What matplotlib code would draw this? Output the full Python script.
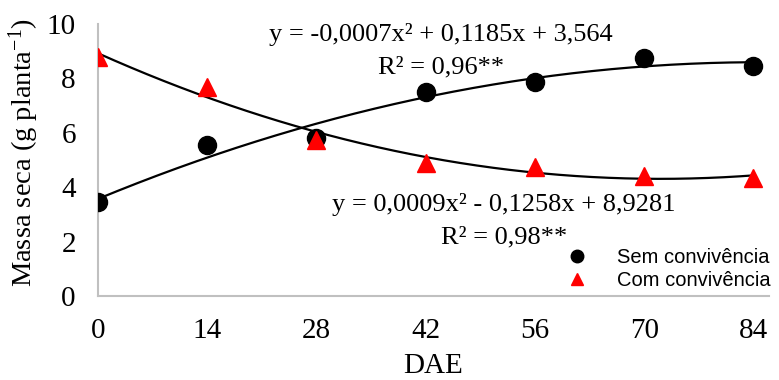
import numpy as np
import matplotlib.pyplot as plt
from matplotlib.lines import Line2D

# --------- DATA ---------
dae = [0, 14, 28, 42, 56, 70, 84]
sem_conv = [3.45, 5.55, 5.8, 7.5, 7.85, 8.75, 8.45]
com_conv = [8.8, 7.7, 5.75, 4.9, 4.75, 4.4, 4.35]

sem_eq = "y = -0,0007x² + 0,1185x + 3,564"
sem_r2 = "R² = 0,96**"
com_eq = "y = 0,0009x² - 0,1258x + 8,9281"
com_r2 = "R² = 0,98**"

# --------- STYLE ---------
plt.rcParams['font.family'] = ['Liberation Serif', 'DejaVu Serif']
plt.rcParams['mathtext.fontset'] = 'custom'
plt.rcParams['mathtext.rm'] = 'Liberation Serif'
plt.rcParams['mathtext.it'] = 'Liberation Serif:italic'

fig = plt.figure(figsize=(7.79, 3.80), dpi=100)
ax = fig.add_axes([98 / 779, 1 - 296 / 380, 671 / 779, 272 / 380])

# 2nd order trendlines (fitted like the spreadsheet does)
xs = np.linspace(0, 84, 200)
sem_fit = np.polyfit(dae, sem_conv, 2)
com_fit = np.polyfit(dae, com_conv, 2)
ax.plot(xs, np.polyval(sem_fit, xs), color='black', lw=1.6, zorder=2)
ax.plot(xs, np.polyval(com_fit, xs), color='black', lw=1.6, zorder=2)

ax.plot(dae, sem_conv, 'o', color='black', ms=13, zorder=3)
ax.plot(dae, com_conv, '^', color='#ff0000', ms=13, zorder=3)

ax.set_xlim(0, 86)
ax.set_ylim(0, 10)
ax.set_xticks(dae)
ax.set_yticks([0, 2, 4, 6, 8, 10])
ax.tick_params(length=0, labelsize=21)
ax.tick_params(axis='x', pad=16)
ax.tick_params(axis='y', pad=16)

for side in ['top', 'right']:
    ax.spines[side].set_visible(False)
for side in ['left', 'bottom']:
    ax.spines[side].set_color('#c0c0c0')
    ax.spines[side].set_linewidth(1.5)

ax.set_xlabel("DAE", fontsize=21, labelpad=6)
ax.set_ylabel("Massa seca (g planta$^{-1}$)", fontsize=20.5)
ax.yaxis.set_label_coords(-0.085, 0.526)

# equations
ax.text(44.0, 9.6, sem_eq, ha='center', va='center', fontsize=19)
ax.text(44.0, 8.4, sem_r2, ha='center', va='center', fontsize=19)
ax.text(52.0, 3.35, com_eq, ha='center', va='center', fontsize=19)
ax.text(52.0, 2.17, com_r2, ha='center', va='center', fontsize=19)

# legend
handles = [
    Line2D([], [], ls='none', marker='o', color='black', ms=9),
    Line2D([], [], ls='none', marker='^', color='#ff0000', ms=9),
]
fig.legend(handles, ["Sem convivência", "Com convivência"],
           loc='center left', bbox_to_anchor=(562 / 779, 1 - 269 / 380),
           frameon=False, prop={'family': 'Liberation Sans', 'size': 14.5},
           handletextpad=1.25, labelspacing=0.2, borderpad=0,
           borderaxespad=0, handlelength=1.5)

fig.savefig("out.png", dpi=100)
